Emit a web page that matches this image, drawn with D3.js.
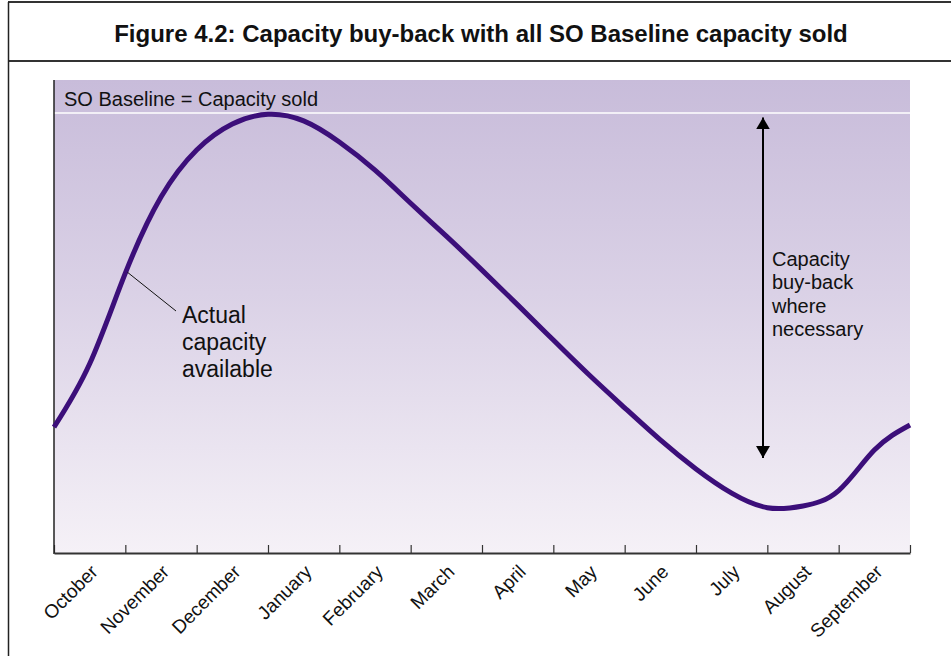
<!DOCTYPE html>
<html>
<head>
<meta charset="utf-8">
<script src="https://cdn.jsdelivr.net/npm/d3@7"></script>
<style>
  body { margin: 0; background: #fff; }
  text { font-family: "Liberation Sans", Arial, sans-serif; fill: #111; }
</style>
</head>
<body>
<svg id="chart" width="951" height="656"></svg>
<script>
// Months of the gas year, one per tick interval
const months = ["October", "November", "December", "January", "February", "March",
                "April", "May", "June", "July", "August", "September"];

// Curve samples: position in months from 1 October, capacity as % of SO Baseline
const samplePos = [0, 0.5, 1, 1.5, 2, 2.5, 3, 3.5, 4, 4.5, 5, 5.5, 6,
                   6.5, 7, 7.5, 8, 8.5, 9, 9.5, 10, 10.5, 11, 11.5, 12];
const capacity  = [28.6, 43.0, 63.6, 80.9, 91.6, 97.5, 99.7, 98.2, 93.4, 87.0, 79.5, 72.0, 64.3,
                   56.4, 48.4, 40.5, 33.0, 25.7, 19.1, 13.6, 10.3, 10.7, 14.2, 23.4, 29.1];

// SO Baseline level (= capacity sold) and the buy-back arrow span
const baselineLevel = 100;
const buyBackSpan = [99, 21.6];

const titleText = "Figure 4.2: Capacity buy-back with all SO Baseline capacity sold";
const baselineLabel = "SO Baseline = Capacity sold";
const curveLabel = ["Actual", "capacity", "available"];
const arrowLabel = ["Capacity", "buy-back", "where", "necessary"];

const svg = d3.select("#chart");

// plot geometry
const plot = { left: 54, right: 910, top: 80, bottom: 553 };
const x = d3.scaleLinear().domain([0, 12]).range([plot.left, plot.right]);
const y = d3.scaleLinear().domain([0, baselineLevel]).range([plot.bottom, 113]);

// frame and title
svg.append("line").attr("x1", 8).attr("x2", 951).attr("y1", 2).attr("y2", 2)
  .attr("stroke", "#333").attr("stroke-width", 2);
svg.append("line").attr("x1", 8).attr("x2", 951).attr("y1", 61).attr("y2", 61)
  .attr("stroke", "#333").attr("stroke-width", 2);
svg.append("line").attr("x1", 8.5).attr("x2", 8.5).attr("y1", 2).attr("y2", 656)
  .attr("stroke", "#222").attr("stroke-width", 1.5);
svg.append("text").attr("x", 481).attr("y", 42)
  .attr("text-anchor", "middle")
  .style("font-family", '"Liberation Sans Narrow", "Liberation Sans", sans-serif')
  .style("font-weight", "bold").style("font-size", "24px")
  .text(titleText);

// background gradient
const defs = svg.append("defs");
const grad = defs.append("linearGradient").attr("id", "bg")
  .attr("x1", 0).attr("y1", 0).attr("x2", 0).attr("y2", 1);
grad.append("stop").attr("offset", "0%").attr("stop-color", "#c8bcda");
grad.append("stop").attr("offset", "45%").attr("stop-color", "#dad1e6");
grad.append("stop").attr("offset", "100%").attr("stop-color", "#f5f1f7");

svg.append("rect")
  .attr("x", plot.left).attr("y", plot.top)
  .attr("width", plot.right - plot.left).attr("height", plot.bottom - plot.top)
  .attr("fill", "url(#bg)");

// baseline
svg.append("line")
  .attr("x1", plot.left).attr("x2", plot.right)
  .attr("y1", y(baselineLevel)).attr("y2", y(baselineLevel))
  .attr("stroke", "#fff").attr("stroke-width", 1.5);
svg.append("text").attr("x", 64).attr("y", 106)
  .style("font-size", "20px").text(baselineLabel);

// x axis with month ticks
const xAxis = d3.axisBottom(x)
  .tickValues(d3.range(0, 13))
  .tickSizeInner(-8).tickSizeOuter(0)
  .tickFormat("");
const gx = svg.append("g").attr("transform", `translate(0,${plot.bottom})`).call(xAxis);
gx.select(".domain").attr("stroke", "#333").attr("stroke-width", 2);
gx.selectAll(".tick line").attr("stroke", "#333").attr("stroke-width", 1.2);

// left edge
svg.append("line").attr("x1", plot.left).attr("x2", plot.left)
  .attr("y1", plot.top).attr("y2", plot.bottom + 1)
  .attr("stroke", "#222").attr("stroke-width", 1.5);

// month labels, rotated
svg.append("g").selectAll("text").data(months).join("text")
  .attr("text-anchor", "end")
  .attr("transform", (d, i) => `translate(${x(i) + 45},573) rotate(-45)`)
  .style("font-size", "19px")
  .text(d => d);

// capacity curve
const line = d3.line()
  .x((d, i) => x(samplePos[i]))
  .y(d => y(d))
  .curve(d3.curveNatural);
svg.append("path").datum(capacity)
  .attr("d", line)
  .attr("fill", "none").attr("stroke", "#3c0f7a").attr("stroke-width", 5)
  .attr("stroke-linecap", "butt");

// leader from curve to its label
svg.append("line")
  .attr("x1", x(samplePos[2]) + 2).attr("y1", y(capacity[2]) - 1)
  .attr("x2", 176).attr("y2", 311)
  .attr("stroke", "#111").attr("stroke-width", 1);
svg.append("g").selectAll("text").data(curveLabel).join("text")
  .attr("x", 182).attr("y", (d, i) => 323 + i * 27)
  .style("font-size", "23px").text(d => d);

// buy-back double arrow
defs.append("marker").attr("id", "head")
  .attr("viewBox", "0 0 12 14").attr("refX", 12).attr("refY", 7)
  .attr("markerWidth", 12).attr("markerHeight", 14)
  .attr("markerUnits", "userSpaceOnUse").attr("orient", "auto-start-reverse")
  .append("path").attr("d", "M0,0 L12,7 L0,14 Z").attr("fill", "#000");
svg.append("line")
  .attr("x1", 763).attr("x2", 763)
  .attr("y1", y(buyBackSpan[0])).attr("y2", y(buyBackSpan[1]))
  .attr("stroke", "#000").attr("stroke-width", 2)
  .attr("marker-start", "url(#head)").attr("marker-end", "url(#head)");
svg.append("g").selectAll("text").data(arrowLabel).join("text")
  .attr("x", 772).attr("y", (d, i) => 266 + i * 23.4)
  .style("font-size", "20px").text(d => d);
</script>
</body>
</html>
